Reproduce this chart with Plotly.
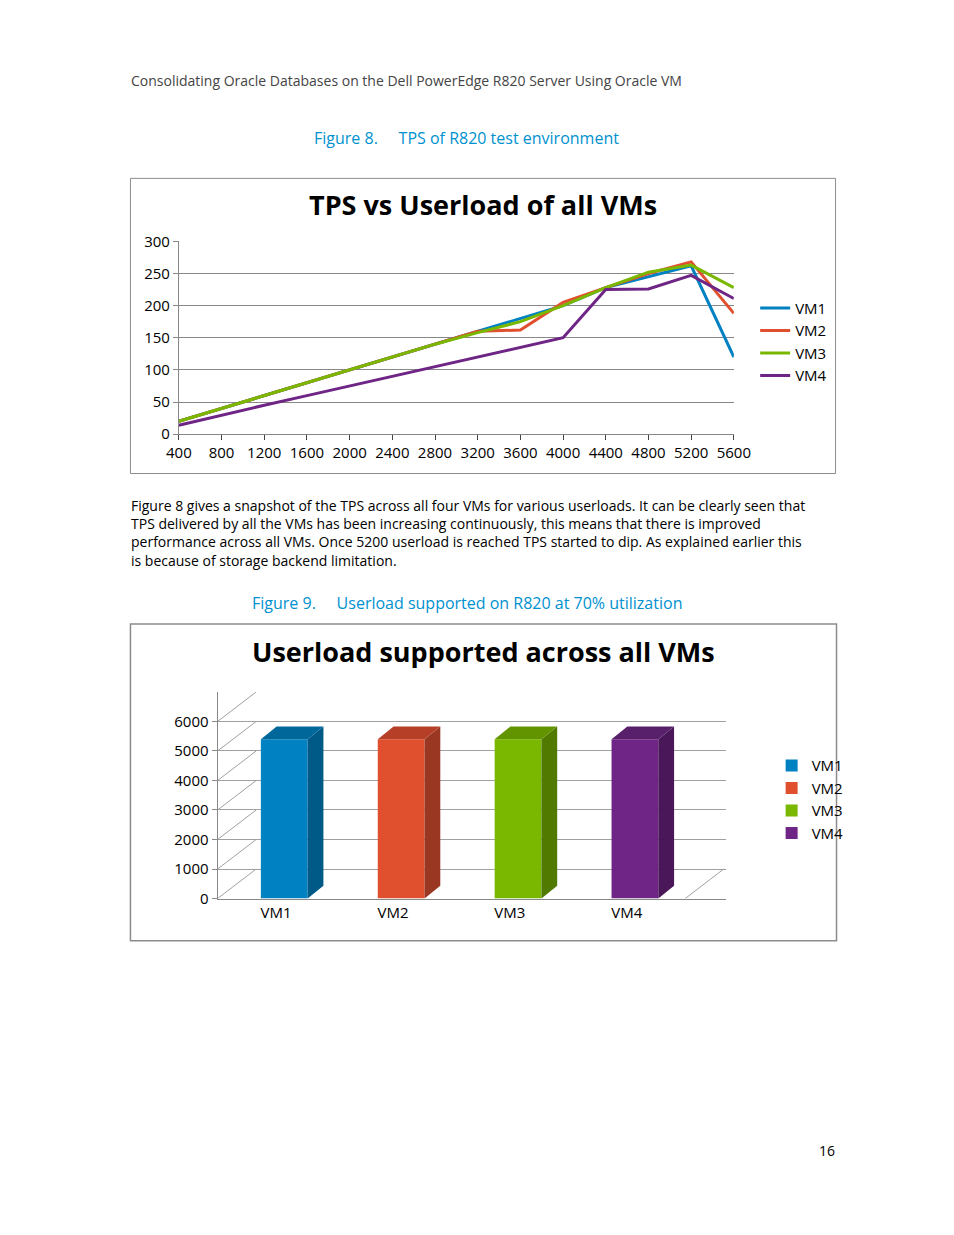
import plotly.graph_objects as go

W, H = 954, 1235

userload = [400, 800, 1200, 1600, 2000, 2400, 2800, 3200, 3600, 4000, 4400, 4800, 5200, 5600]
tps_vm1 = [20, 40, 60, 80, 100, 120, 140, 160, 180, 200, 228, 245, 262, 120]
tps_vm2 = [20, 40, 60, 80, 100, 120, 140, 160, 162, 205, 228, 250, 268, 188]
tps_vm3 = [20, 40, 60, 80, 100, 120, 140, 158, 175, 200, 228, 252, 263, 228]
tps_vm4 = [14, 30, 45, 60, 75, 90, 105, 120, 135, 150, 225, 226, 247, 211]

vms = ["VM1", "VM2", "VM3", "VM4"]
supported = [5400, 5400, 5400, 5400]

colors = ["#0081c2", "#e0502f", "#7ab800", "#6e2585"]
dark = ["#005a88", "#9a3722", "#517a00", "#4a1859"]
top = ["#00679b", "#b64027", "#629400", "#58206b"]

def px(x):
    return x / W

def py(y):
    return 1 - y / H

fig = go.Figure()

for name, vals, c in zip(vms, [tps_vm1, tps_vm2, tps_vm3, tps_vm4], colors):
    fig.add_trace(go.Scatter(x=[str(u) for u in userload], y=vals, name=name, mode="lines",
                             line=dict(color=c, width=3), xaxis="x", yaxis="y", legend="legend"))

for i, (name, v) in enumerate(zip(vms, supported)):
    fig.add_trace(go.Bar(x=[i + 0.07], y=[v], name=name, width=0.4, marker=dict(color=colors[i], line_width=0),
                         xaxis="x2", yaxis="y2", legend="legend2"))

shapes = []
# chart borders
shapes.append(dict(type="rect", xref="paper", yref="paper", x0=px(113), x1=px(841), y0=py(462), y1=py(162),
                   line=dict(color="#8c8c8c", width=1)))
shapes.append(dict(type="rect", xref="paper", yref="paper", x0=px(113), x1=px(842), y0=py(937), y1=py(615),
                   line=dict(color="#8c8c8c", width=1.5)))

# 3D-ish bar faces, depth in axis units
dx, dy = 0.135, 430
for i, v in enumerate(supported):
    xl, xr = i + 0.07 - 0.2, i + 0.07 + 0.2
    shapes.append(dict(type="path", xref="x2", yref="y2", layer="above", line_width=0, fillcolor=dark[i],
                       path=f"M {xr},0 L {xr+dx},{dy} L {xr+dx},{v+dy} L {xr},{v} Z"))
    shapes.append(dict(type="path", xref="x2", yref="y2", layer="above", line_width=0, fillcolor=top[i],
                       path=f"M {xl},{v} L {xl+dx},{v+dy} L {xr+dx},{v+dy} L {xr},{v} Z"))
# back wall / floor lines
for g in range(0, 7001, 1000):
    shapes.append(dict(type="line", xref="x2", yref="y2", x0=-0.5, y0=g, x1=-0.5 + 0.33, y1=g + 1000,
                       line=dict(color="#a0a0a0", width=1), layer="below"))
shapes.append(dict(type="line", xref="x2", yref="y2", x0=3.5, y0=0, x1=3.5 + 0.33, y1=1000,
                   line=dict(color="#a0a0a0", width=1), layer="below"))

blue = "#0091d0"
font = "Open Sans"
annotations = [
    dict(text="Consolidating Oracle Databases on the Dell PowerEdge R820 Server Using Oracle VM",
         x=px(112), y=py(63), xanchor="left", font=dict(size=14, color="#444")),
    dict(text="Figure 8.     TPS of R820 test environment", x=px(460), y=py(121), font=dict(size=16, color=blue)),
    dict(text="<b>TPS vs Userload of all VMs</b>", x=px(477), y=py(189), font=dict(size=27, color="black")),
    dict(text="Figure 8 gives a snapshot of the TPS across all four VMs for various userloads. It can be clearly seen that<br>"
              "TPS delivered by all the VMs has been increasing continuously, this means that there is improved<br>"
              "performance across all VMs. Once 5200 userload is reached TPS started to dip. As explained earlier this<br>"
              "is because of storage backend limitation.",
         x=px(112), y=py(522), xanchor="left", align="left", font=dict(size=14, color="black")),
    dict(text="Figure 9.     Userload supported on R820 at 70% utilization", x=px(460), y=py(594),
         font=dict(size=16, color=blue)),
    dict(text="<b>Userload supported across all VMs</b>", x=px(477), y=py(643), font=dict(size=27, color="black")),
    dict(text="16", x=px(842), y=py(1150), xanchor="right", font=dict(size=14, color="black")),
]
for a in annotations:
    a.update(xref="paper", yref="paper", showarrow=False, yanchor="middle")
    a["font"]["family"] = font

axis_font = dict(family=font, size=15, color="black")
fig.update_layout(
    width=W, height=H, margin=dict(l=0, r=0, t=0, b=0),
    paper_bgcolor="white", plot_bgcolor="white", showlegend=True,
    xaxis=dict(domain=[px(163), px(736)], type="category", showgrid=False, ticks="outside", ticklen=5,
               showline=True, linecolor="#888", tickfont=axis_font, fixedrange=True),
    yaxis=dict(domain=[py(422), py(226)], range=[0, 300], dtick=50, gridcolor="#888", showline=True,
               linecolor="#888", tickfont=axis_font, zeroline=False, ticks="outside", ticklen=5, tickcolor="#888"),
    xaxis2=dict(domain=[px(203), px(728)], range=[-0.5, 3.85], tickvals=[0, 1, 2, 3], ticktext=vms,
                showgrid=False, showline=True, linecolor="#888", tickfont=axis_font, anchor="y2"),
    yaxis2=dict(domain=[py(894), py(684)], range=[0, 7000], tickvals=[0, 1000, 2000, 3000, 4000, 5000, 6000],
                gridcolor="#a0a0a0", showline=True, linecolor="#888", tickfont=axis_font, zeroline=False,
                anchor="x2", ticks="outside", ticklen=5, tickcolor="#888"),
    legend=dict(x=px(758), y=py(292) + 0.012, xanchor="left", yanchor="top", font=axis_font, tracegroupgap=2,
                bgcolor="rgba(0,0,0,0)"),
    legend2=dict(x=px(775), y=py(757) + 0.012, xanchor="left", yanchor="top", font=axis_font,
                 bgcolor="rgba(0,0,0,0)"),
    shapes=shapes, annotations=annotations,
)

fig.write_html("out.html")
